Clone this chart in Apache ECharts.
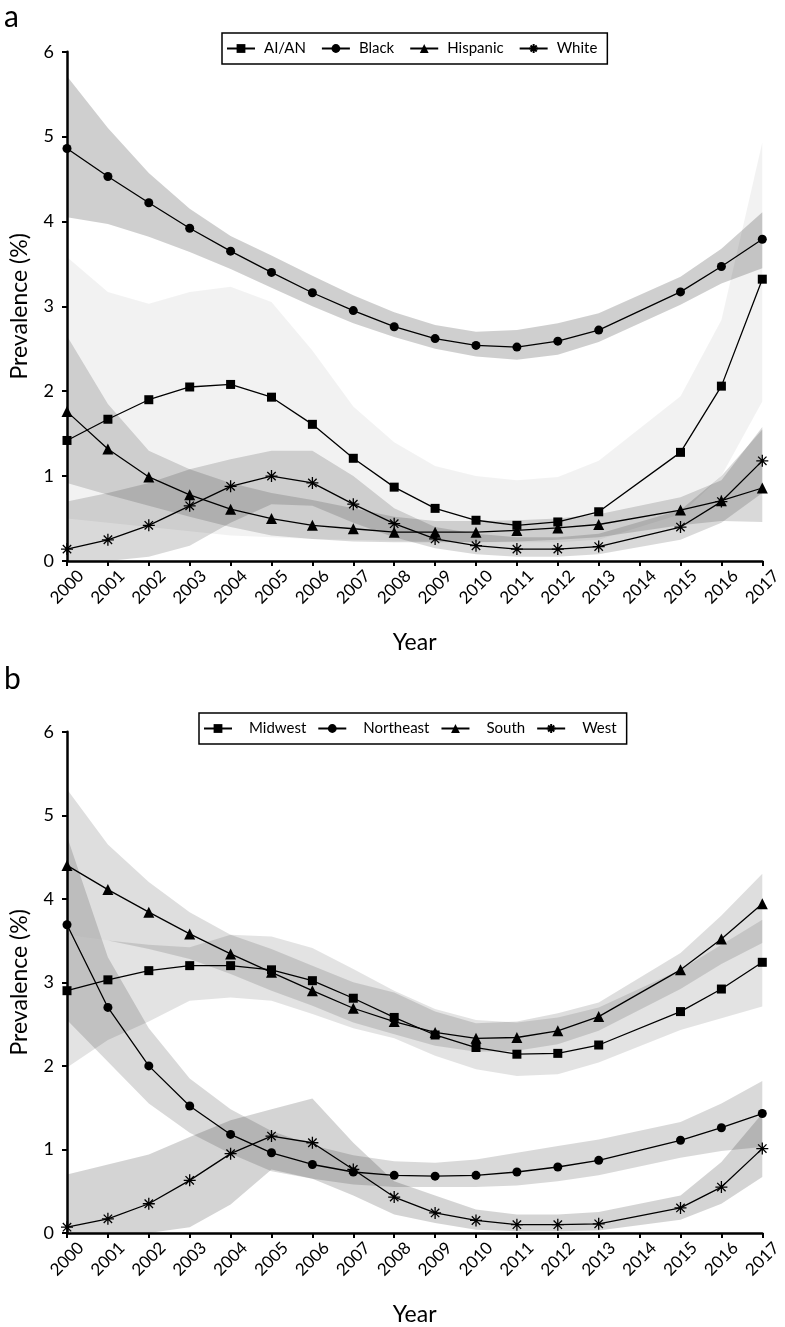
<!DOCTYPE html>
<html><head><meta charset="utf-8">
<script src="https://cdn.jsdelivr.net/npm/echarts@6/dist/echarts.min.js"></script>
<style>html,body{margin:0;padding:0;background:#fff}#c{width:785px;height:1327px}</style>
</head><body><div id="c"></div>
<script>
// ---- shared ----
const years = [2000,2001,2002,2003,2004,2005,2006,2007,2008,2009,2010,2011,2012,2013,2015,2016,2017];
const yearTicks = [2000,2001,2002,2003,2004,2005,2006,2007,2008,2009,2010,2011,2012,2013,2014,2015,2016,2017];
const yTicks = [0,1,2,3,4,5,6];

// ---- panel a (race/ethnicity) ----
const aianVals     = [1.42,1.67,1.90,2.05,2.08,1.93,1.61,1.21,0.87,0.62,0.48,0.42,0.46,0.58,1.28,2.06,3.32];
const aianLo       = [0.50,0.45,0.40,0.35,0.30,0.28,0.26,0.25,0.24,0.23,0.22,0.22,0.22,0.25,0.55,1.00,1.88];
const aianHi       = [3.58,3.17,3.03,3.17,3.23,3.05,2.48,1.82,1.40,1.12,1.00,0.95,0.99,1.18,1.94,2.84,4.93];
const blackVals    = [4.86,4.53,4.22,3.92,3.65,3.40,3.16,2.95,2.76,2.62,2.54,2.52,2.59,2.72,3.17,3.47,3.79];
const blackLo      = [4.05,3.97,3.82,3.64,3.44,3.22,3.00,2.80,2.64,2.50,2.41,2.37,2.43,2.58,3.02,3.27,3.45];
const blackHi      = [5.71,5.10,4.57,4.15,3.83,3.60,3.36,3.13,2.93,2.78,2.70,2.72,2.80,2.92,3.35,3.68,4.11];
const hispVals     = [1.76,1.32,0.99,0.78,0.61,0.50,0.42,0.38,0.34,0.34,0.34,0.36,0.39,0.43,0.60,0.71,0.86];
const hispLo       = [0.92,0.78,0.65,0.52,0.40,0.30,0.26,0.23,0.22,0.22,0.22,0.23,0.25,0.28,0.42,0.47,0.46];
const hispHi       = [2.65,1.85,1.30,1.08,0.92,0.80,0.72,0.62,0.52,0.47,0.47,0.48,0.50,0.55,0.75,0.95,1.58];
const whiteVals    = [0.14,0.25,0.42,0.65,0.88,1.00,0.92,0.67,0.44,0.26,0.18,0.14,0.14,0.17,0.40,0.70,1.18];
const whiteLo      = [0.00,0.00,0.05,0.18,0.45,0.67,0.65,0.45,0.28,0.15,0.08,0.05,0.05,0.08,0.25,0.45,0.80];
const whiteHi      = [0.70,0.80,0.92,1.08,1.20,1.30,1.30,1.00,0.62,0.40,0.32,0.28,0.28,0.32,0.60,1.00,1.55];

// ---- panel b (region) ----
const midwestVals  = [2.90,3.03,3.14,3.20,3.20,3.15,3.02,2.81,2.58,2.37,2.22,2.14,2.15,2.25,2.65,2.92,3.24];
const midwestLo    = [1.98,2.31,2.53,2.78,2.82,2.78,2.62,2.45,2.33,2.12,1.96,1.88,1.90,2.04,2.43,2.57,2.71];
const midwestHi    = [3.57,3.50,3.45,3.42,3.57,3.55,3.41,3.16,2.90,2.68,2.55,2.52,2.58,2.70,3.15,3.45,3.75];
const northeastVals= [3.69,2.70,2.00,1.52,1.18,0.96,0.82,0.73,0.69,0.68,0.69,0.73,0.79,0.87,1.11,1.26,1.43];
const northeastLo  = [2.55,2.05,1.55,1.20,0.95,0.74,0.65,0.58,0.55,0.55,0.55,0.57,0.62,0.69,0.90,0.98,1.03];
const northeastHi  = [4.75,3.30,2.45,1.85,1.48,1.22,1.05,0.93,0.86,0.84,0.88,0.96,1.04,1.12,1.33,1.55,1.82];
const southVals    = [4.40,4.11,3.84,3.58,3.34,3.12,2.90,2.69,2.53,2.40,2.33,2.34,2.42,2.59,3.15,3.52,3.94];
const southLo      = [3.57,3.50,3.40,3.28,3.10,2.90,2.72,2.52,2.38,2.24,2.17,2.18,2.26,2.42,2.92,3.22,3.47];
const southHi      = [5.31,4.65,4.20,3.84,3.57,3.40,3.20,3.00,2.88,2.65,2.51,2.53,2.63,2.76,3.35,3.80,4.30];
const westVals     = [0.07,0.17,0.35,0.63,0.95,1.16,1.08,0.76,0.43,0.24,0.15,0.10,0.10,0.11,0.30,0.55,1.01];
const westLo       = [0.00,0.00,0.00,0.07,0.34,0.76,0.65,0.45,0.22,0.12,0.04,0.02,0.02,0.03,0.16,0.35,0.67];
const westHi       = [0.70,0.82,0.94,1.15,1.35,1.48,1.61,1.08,0.62,0.45,0.28,0.22,0.22,0.25,0.45,0.85,1.43];

const FONT = 'Lato';
const asterisk = 'path://M10,0L10,20M0,10L20,10M3,3L17,17M3,17L17,3';

function pts(vals){ return years.map((y,i)=>[y, vals[i]]); }

function band(idx, lo, hi, color){
  return {
    type:'custom', xAxisIndex: idx, yAxisIndex: idx, z: 1, silent: true,
    data: years.map((y,i)=>[y, lo[i], hi[i]]),
    encode: {x:0, y:[1,2]},
    renderItem: function(params, api){
      if (params.dataIndex !== 0) return null;
      const top = years.map((y,i)=>api.coord([y, hi[i]]));
      const bot = years.map((y,i)=>api.coord([y, lo[i]])).reverse();
      return {type:'polygon', shape:{points: top.concat(bot)}, style:{fill: color, stroke: null}};
    }
  };
}

function line(idx, name, vals, symbol, size){
  const star = symbol === asterisk;
  return {
    type:'line', name: name, xAxisIndex: idx, yAxisIndex: idx, z: 5,
    data: pts(vals), symbol: symbol, symbolSize: size, showAllSymbol: true,
    lineStyle: {color:'#000', width:1.3},
    itemStyle: star ? {color:'none', borderColor:'#000', borderWidth:1.3} : {color:'#000', borderWidth:0},
    emphasis: {disabled: true}, animation: false
  };
}

function xAxis(idx){
  return {
    type:'value', gridIndex: idx, min: 2000, max: 2017, interval: 1,
    name: 'Year', nameLocation:'middle', nameGap: 70,
    nameTextStyle: {fontFamily: FONT, fontSize: 23, color:'#000'},
    axisLine: {show:true, onZero:false, lineStyle:{color:'#000', width:2.5}},
    axisTick: {show:true, length:5, lineStyle:{color:'#000', width:2}},
    splitLine: {show:false},
    axisLabel: {rotate:45, align:'center', verticalAlign:'middle', margin:26,
      fontFamily: FONT, fontSize: 17, color:'#000',
      formatter: v => { const t = yearTicks.find(y => y === v); return t === undefined ? '' : String(t); }}
  };
}
function yAxis(idx){
  return {
    type:'value', gridIndex: idx, min: 0, max: 6, interval: 1,
    name: 'Prevalence (%)', nameLocation:'middle', nameGap: 36,
    nameTextStyle: {fontFamily: FONT, fontSize: 23, color:'#000'},
    axisLine: {show:true, lineStyle:{color:'#000', width:2.5}},
    axisTick: {show:true, length:5, lineStyle:{color:'#000', width:2}},
    splitLine: {show:false},
    axisLabel: {fontFamily: FONT, fontSize: 18, color:'#000', margin: 13,
      formatter: v => yTicks.includes(v) ? String(v) : ''}
  };
}

function legend(names, left, top, textPad, gap){
  return {
    data: names, left: left, top: top, orient:'horizontal',
    itemWidth: 28, itemHeight: 11, itemGap: gap,
    padding: [8, 10, 8, 4],
    borderColor:'#000', borderWidth: 1.5,
    textStyle: {fontFamily: FONT, fontSize: 15, color:'#000', padding:[0,0,0,textPad]},
    selectedMode: false
  };
}

const chart = echarts.init(document.getElementById('c'), null, {renderer:'canvas'});
chart.setOption({
  animation: false,
  backgroundColor: '#fff',
  grid: [
    {left: 57.3, right: 22.7, top: 51.7, height: 509.3},
    {left: 57.3, right: 22.7, top: 731.7, height: 510}
  ],
  xAxis: [xAxis(0), xAxis(1)],
  yAxis: [yAxis(0), yAxis(1)],
  legend: [
    legend(['AI/AN','Black','Hispanic','White'], 222, 33, 4, 15),
    legend(['Midwest','Northeast','South','West'], 199, 713, 12, 11)
  ],
  graphic: [
    {type:'text', left: 4, top: 2, style:{text:'a', fontFamily: FONT, fontSize: 30, fill:'#000'}},
    {type:'text', left: 4, top: 664, style:{text:'b', fontFamily: FONT, fontSize: 30, fill:'#000'}}
  ],
  series: [
    band(0, aianLo, aianHi, 'rgba(0,0,0,0.05)'),
    band(0, blackLo, blackHi, 'rgba(0,0,0,0.19)'),
    band(0, hispLo, hispHi, 'rgba(0,0,0,0.15)'),
    band(0, whiteLo, whiteHi, 'rgba(0,0,0,0.15)'),
    line(0, 'AI/AN', aianVals, 'rect', 9),
    line(0, 'Black', blackVals, 'circle', 9),
    line(0, 'Hispanic', hispVals, 'triangle', 11),
    line(0, 'White', whiteVals, asterisk, 12),
    band(1, midwestLo, midwestHi, 'rgba(0,0,0,0.11)'),
    band(1, southLo, southHi, 'rgba(0,0,0,0.13)'),
    band(1, northeastLo, northeastHi, 'rgba(0,0,0,0.15)'),
    band(1, westLo, westHi, 'rgba(0,0,0,0.17)'),
    line(1, 'Midwest', midwestVals, 'rect', 9),
    line(1, 'Northeast', northeastVals, 'circle', 9),
    line(1, 'South', southVals, 'triangle', 11),
    line(1, 'West', westVals, asterisk, 12)
  ]
});
</script>
</body></html>
